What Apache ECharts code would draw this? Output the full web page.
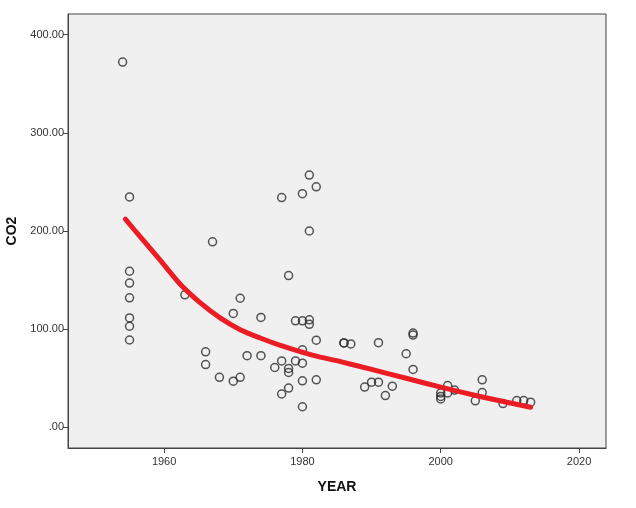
<!DOCTYPE html>
<html>
<head>
<meta charset="utf-8">
<script src="https://cdn.jsdelivr.net/npm/echarts@6/dist/echarts.min.js"></script>
<style>
html,body{margin:0;padding:0;background:#fff;}
#c{width:636px;height:508px;}
</style>
</head>
<body>
<div id="c"></div>
<script>
// Observed points: [year, CO2]
const years = [1954,1955,1955,1955,1955,1955,1955,1955,1963,1966,1966,1967,1968,1970,1970,1971,1971,1972,1974,1974,1976,1977,1977,1977,1978,1978,1978,1978,1979,1979,1980,1980,1980,1980,1980,1980,1981,1981,1981,1981,1982,1982,1982,1986,1986,1987,1989,1990,1991,1991,1992,1993,1995,1996,1996,1996,2000,2000,2000,2001,2001,2002,2005,2006,2006,2009,2011,2012,2013];
const co2 = [372,234.7,159,147,132,111.5,103,89,135,77,64,189,51,116,47,131.5,51,73,112,73,61,234,67.7,34,154.6,60,56,40,108.5,67.7,238,108.5,79,65.4,47.4,21,257,200,109.5,105,245,88.8,48.4,86,86,85,41,46,86.3,46,32.4,42,75,96,94,59,35,31.5,29,42.6,35,38,27,48.4,35.4,24.2,27.3,27.3,25.7];
// Fitted curve
const fitYears = [1954.4,1956.5,1959.4,1962.3,1965.2,1968.1,1971,1973.9,1976.8,1979.7,1982.3,1985.5,1990,1995,2000,2006,2013];
const fitCO2 = [212,194.5,170.5,146,127,111.5,99.5,91,83.5,77.2,72,67,59,50,41,31,20.5];
const xTicks = [1960,1980,2000,2020];
const yTicks = [0,100,200,300,400];

const pts = years.map((y,i)=>[y,co2[i]]);
const fit = fitYears.map((y,i)=>[y,fitCO2[i]]);

const chart = echarts.init(document.getElementById('c'), null, {renderer:'canvas'});
const font = 'Liberation Sans, Arial, sans-serif';
chart.setOption({
  animation:false,
  backgroundColor:'#ffffff',
  grid:{left:68,top:14,right:30,bottom:60,containLabel:false,outerBoundsMode:'none',
        show:true,backgroundColor:'#f0f0f0',borderColor:'#444',borderWidth:1},
  xAxis:{
    type:'value',min:1946.1,max:2023.9,
    name:'YEAR',nameLocation:'middle',nameGap:32,
    nameTextStyle:{fontFamily:font,fontSize:14,fontWeight:'bold',color:'#111'},
    axisLine:{show:true,onZero:false,lineStyle:{color:'#444',width:1}},
    axisTick:{show:true,inside:false,length:5,lineStyle:{color:'#444'},customValues:xTicks},
    axisLabel:{customValues:xTicks,fontFamily:font,fontSize:11,color:'#333',margin:8,
      formatter:v=>String(v)},
    splitLine:{show:false}
  },
  yAxis:{
    type:'value',min:-21,max:421,
    name:'CO2',nameLocation:'middle',nameGap:47,nameRotate:90,
    nameTextStyle:{fontFamily:font,fontSize:14,fontWeight:'bold',color:'#111'},
    axisLine:{show:true,onZero:false,lineStyle:{color:'#444',width:1}},
    axisTick:{show:true,inside:false,length:5,lineStyle:{color:'#444'},customValues:yTicks},
    axisLabel:{customValues:yTicks,fontFamily:font,fontSize:11,color:'#333',margin:4,
      formatter:v=> v===0 ? '.00' : v.toFixed(2)},
    splitLine:{show:false}
  },
  series:[
    {type:'scatter',data:pts,symbol:'circle',symbolSize:8,
     itemStyle:{color:'rgba(0,0,0,0)',borderColor:'#2a2a2a',borderWidth:1.5},z:2},
    {type:'line',data:fit,smooth:0.25,showSymbol:false,
     lineStyle:{color:'#ec1c24',width:5,cap:'round',join:'round'},z:3}
  ]
});
</script>
</body>
</html>
